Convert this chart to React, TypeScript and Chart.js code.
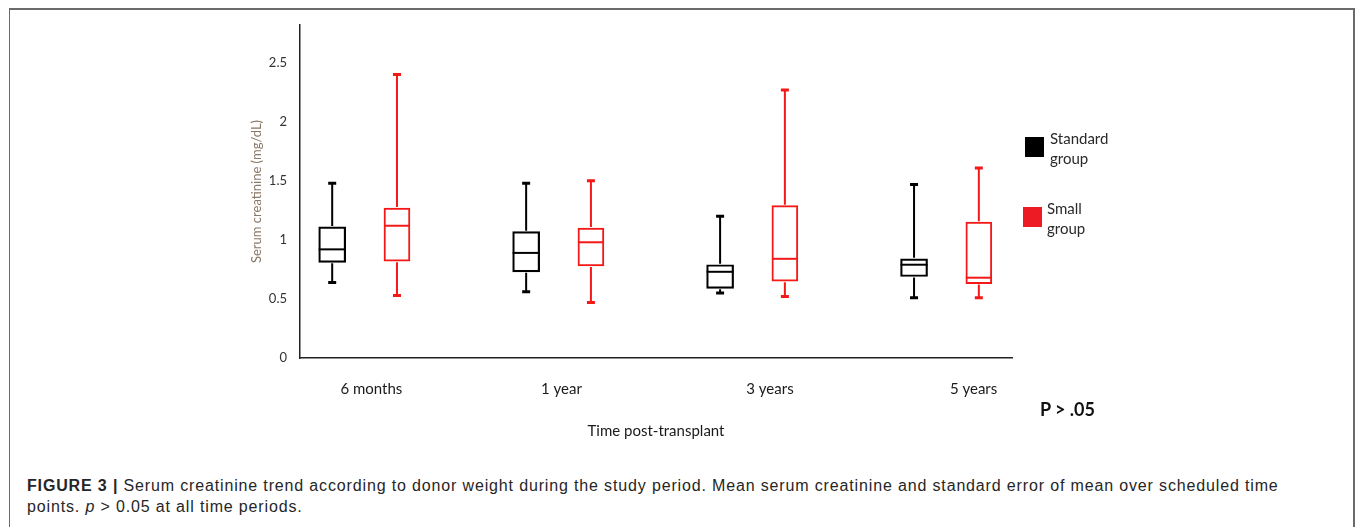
import React, { useEffect, useRef } from "react";
import { Chart, registerables } from "chart.js";

Chart.register(...registerables);

const CATEGORIES = ["6 months", "1 year", "3 years", "5 years"];
const GROUP_POS = [0, 1, 2, 3];
const TICK_POS = [0.035, 1.015, 2.09, 3.14];
const Y_TICKS = [0, 0.5, 1, 1.5, 2, 2.5];

const STD_MIN = [0.64, 0.56, 0.55, 0.51];
const STD_Q1 = [0.81, 0.73, 0.59, 0.69];
const STD_MED = [0.92, 0.89, 0.73, 0.79];
const STD_Q3 = [1.11, 1.07, 0.79, 0.84];
const STD_MAX = [1.48, 1.48, 1.2, 1.47];

const SML_MIN = [0.53, 0.47, 0.52, 0.51];
const SML_Q1 = [0.82, 0.78, 0.65, 0.63];
const SML_MED = [1.12, 0.98, 0.84, 0.68];
const SML_Q3 = [1.27, 1.1, 1.29, 1.15];
const SML_MAX = [2.4, 1.5, 2.27, 1.61];

const BLACK = "#000000";
const RED = "#f41818";

const STATS = [
  { min: STD_MIN, q1: STD_Q1, med: STD_MED, q3: STD_Q3, max: STD_MAX, color: BLACK },
  { min: SML_MIN, q1: SML_Q1, med: SML_MED, q3: SML_Q3, max: SML_MAX, color: RED },
];

const boxExtras = {
  id: "boxExtras",
  afterDatasetsDraw(chart: any) {
    const { ctx } = chart;
    const y = chart.scales.y;
    STATS.forEach((s, di) => {
      const meta = chart.getDatasetMeta(di);
      meta.data.forEach((bar: any, i: number) => {
        const { x, width } = bar.getProps(["x", "width"], true);
        ctx.save();
        ctx.strokeStyle = s.color;
        ctx.lineWidth = 2;
        ctx.lineCap = "butt";
        const ym = y.getPixelForValue(s.med[i]);
        ctx.beginPath();
        ctx.moveTo(x - width / 2, ym);
        ctx.lineTo(x + width / 2, ym);
        ctx.stroke();
        const yq3 = y.getPixelForValue(s.q3[i]);
        const yq1 = y.getPixelForValue(s.q1[i]);
        const ymax = y.getPixelForValue(s.max[i]);
        const ymin = y.getPixelForValue(s.min[i]);
        ctx.beginPath();
        ctx.moveTo(x, yq3 - 1);
        ctx.lineTo(x, ymax);
        ctx.moveTo(x, yq1 + 1);
        ctx.lineTo(x, ymin);
        ctx.stroke();
        ctx.lineWidth = 3;
        ctx.beginPath();
        ctx.moveTo(x - 4, ymax);
        ctx.lineTo(x + 4, ymax);
        ctx.moveTo(x - 4, ymin);
        ctx.lineTo(x + 4, ymin);
        ctx.stroke();
        ctx.restore();
      });
    });
  },
};

const FONT = "Lato, 'Open Sans', sans-serif";

export default function App() {
  const ref = useRef<HTMLCanvasElement>(null);

  useEffect(() => {
    if (!ref.current) return;
    const chart = new Chart(ref.current, {
      type: "bar",
      data: {
        datasets: [
          {
            label: "Standard group",
            data: GROUP_POS.map((p, i) => ({ x: p - 0.167, y: [STD_Q1[i], STD_Q3[i]] })) as any,
            backgroundColor: "#ffffff",
            borderColor: BLACK,
            borderWidth: 2.2,
            borderSkipped: false,
            barThickness: 27,
            grouped: false,
          } as any,
          {
            label: "Small group",
            data: GROUP_POS.map((p, i) => ({ x: p + 0.167, y: [SML_Q1[i], SML_Q3[i]] })) as any,
            backgroundColor: "#ffffff",
            borderColor: RED,
            borderWidth: 2,
            borderSkipped: false,
            barThickness: 26,
            grouped: false,
          } as any,
        ],
      },
      options: {
        animation: false,
        responsive: false,
        maintainAspectRatio: false,
        layout: { padding: { left: 45, right: 88, top: 25, bottom: 12 } },
        plugins: { legend: { display: false }, tooltip: { enabled: false } },
        scales: {
          x: {
            type: "linear",
            min: -0.333,
            max: 3.338,
            offset: false,
            grid: { display: false, drawTicks: false },
            border: { display: true, color: "#222", width: 1.5 },
            afterBuildTicks: (scale: any) => {
              scale.ticks = TICK_POS.map((v) => ({ value: v }));
            },
            afterFit: (scale: any) => {
              scale.height = 90;
            },
            ticks: {
              padding: 22,
              color: "#1a1a1a",
              font: { family: FONT, size: 15 },
              maxRotation: 0,
              autoSkip: false,
              callback: (_v: any, i: number) => CATEGORIES[i],
            },
            title: {
              display: true,
              text: "Time post-transplant",
              color: "#1a1a1a",
              font: { family: FONT, size: 15 },
              padding: { top: 0, bottom: 8 },
            },
          },
          y: {
            type: "linear",
            min: 0,
            max: 2.82,
            grid: { display: false, drawTicks: false },
            border: { display: true, color: "#222", width: 1.5 },
            afterBuildTicks: (scale: any) => {
              scale.ticks = Y_TICKS.map((v) => ({ value: v }));
            },
            afterFit: (scale: any) => {
              scale.width = 55;
            },
            ticks: {
              padding: 13,
              color: "#333",
              font: { family: FONT, size: 13 },
              callback: (v: any) => String(v),
            },
            title: {
              display: true,
              text: "Serum creatinine (mg/dL)",
              color: "#8a7766",
              font: { family: FONT, size: 13 },
              padding: { top: 4, bottom: 4 },
            },
          },
        },
      } as any,
      plugins: [boxExtras],
    });
    return () => chart.destroy();
  }, []);

  return (
    <div style={{ position: "absolute", left: 0, top: 0, width: 1355, height: 527, overflow: "hidden", background: "#fff" }}>
      <div
        style={{
          position: "absolute",
          left: 9,
          top: 8,
          width: 1343,
          height: 560,
          borderTop: "2px solid #6a6a6a",
          borderLeft: "1.5px solid #6a6a6a",
          borderRight: "2px solid #6a6a6a",
        }}
      />
      <canvas
        ref={ref}
        width={900}
        height={460}
        style={{ position: "absolute", left: 200, top: 0, width: 900, height: 460 }}
      />
      <div style={{ position: "absolute", left: 1025, top: 137, width: 19, height: 20, background: "#000" }} />
      <div style={{ position: "absolute", left: 1050, top: 128, font: `15px ${FONT}`, lineHeight: "20px", color: "#2a2a2a" }}>
        Standard
        <br />
        group
      </div>
      <div style={{ position: "absolute", left: 1023, top: 207, width: 19, height: 20, background: "#ed1c24" }} />
      <div style={{ position: "absolute", left: 1047, top: 198, font: `15px ${FONT}`, lineHeight: "20px", color: "#2a2a2a" }}>
        Small
        <br />
        group
      </div>
      <div style={{ position: "absolute", left: 1040, top: 398, font: `bold 18px ${FONT}`, color: "#111" }}>P &gt; .05</div>
      <div
        style={{
          position: "absolute",
          left: 27,
          top: 475,
          font: `16px 'Liberation Sans', Arial, sans-serif`,
          letterSpacing: "0.85px",
          lineHeight: "21px",
          color: "#262626",
          whiteSpace: "nowrap",
        }}
      >
        <b>FIGURE 3 |</b> Serum creatinine trend according to donor weight during the study period. Mean serum creatinine and standard error of mean over scheduled time
        <br />
        points. <i>p</i> &gt; 0.05 at all time periods.
      </div>
    </div>
  );
}
